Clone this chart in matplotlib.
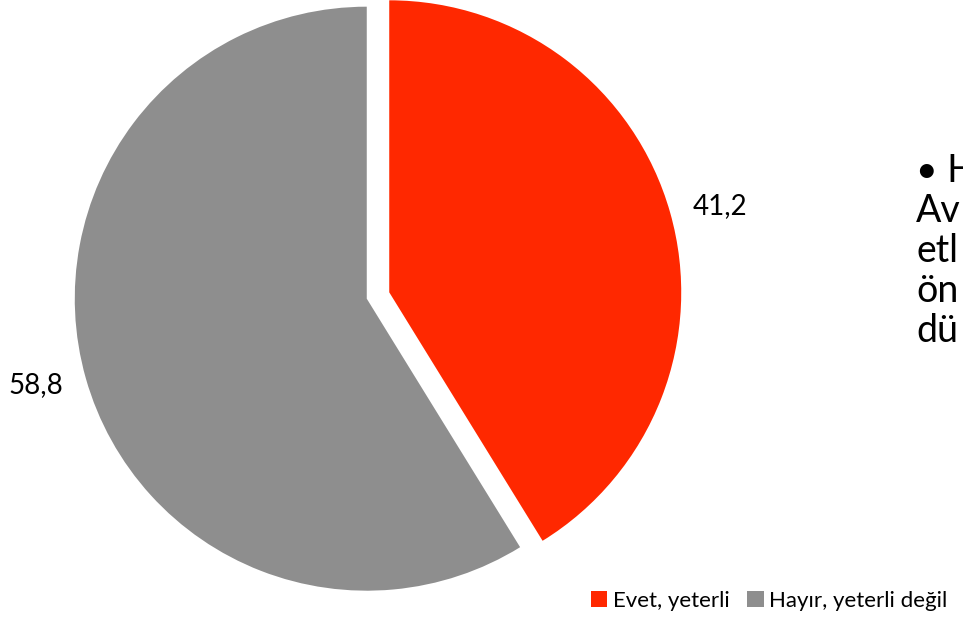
import matplotlib.pyplot as plt

plt.rcParams['font.family'] = ['Lato', 'DejaVu Sans']

# Data
categories = ['Evet, yeterli', 'Hayır, yeterli değil']
values = [41.2, 58.8]
colors = ['#FF2800', '#8E8E8E']
side_lines = ['• H', 'Av', 'etl', 'ön', 'dü']

W, H = 963, 619
cx, cy, R = 378, 295.5, 292

fig = plt.figure(figsize=(W / 100, H / 100), dpi=100)
ax = fig.add_axes([0, 0, 1, 1])

labels = [f'{v:.1f}'.replace('.', ',') for v in values]
wedges, texts = ax.pie(values, colors=colors, labels=labels, radius=1,
                       startangle=90, counterclock=False,
                       explode=[0.04, 0.04], labeldistance=1.08,
                       textprops={'fontsize': 20, 'color': '#000000'},
                       frame=True)
ax.set_xlim(-cx / R, (W - cx) / R)
ax.set_ylim(-(H - cy) / R, cy / R)
ax.axis('off')

# Side text, cut at the right edge as in the slide
for i, line in enumerate(side_lines):
    fig.text(916 / W, 1 - (171 + 40 * i) / H, line, fontsize=27,
             ha='left', va='center', color='#000000')

leg = fig.legend(wedges, categories, loc='lower right',
                 bbox_to_anchor=(0.998, -0.008), ncol=2, frameon=False,
                 fontsize=16, handlelength=0.75, handleheight=0.75,
                 handletextpad=0.25, columnspacing=0.8, borderaxespad=0.2)

fig.savefig('out.png', dpi=100)
